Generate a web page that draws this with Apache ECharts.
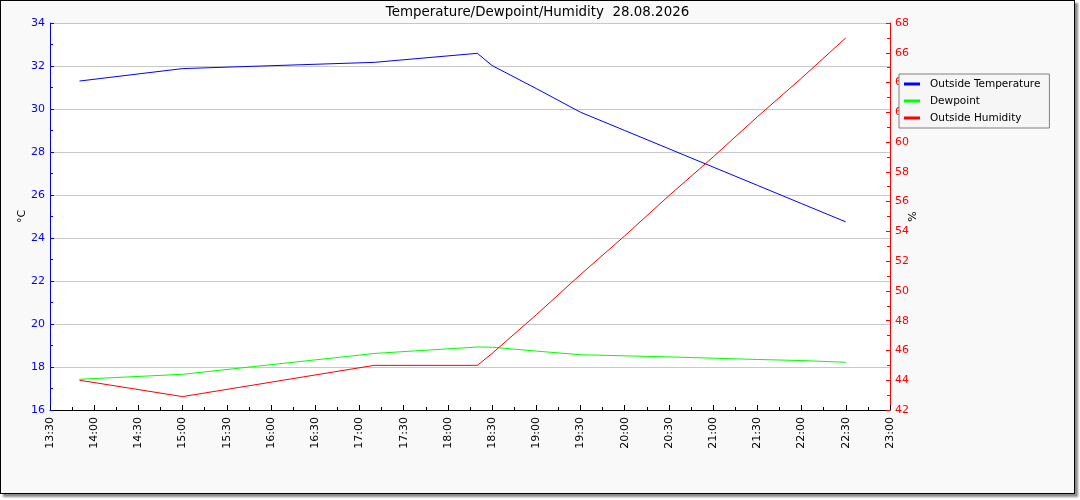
<!DOCTYPE html>
<html>
<head>
<meta charset="utf-8">
<script src="https://cdn.jsdelivr.net/npm/echarts@6/dist/echarts.min.js"></script>
<style>
  html, body { margin: 0; padding: 0; background: #ffffff; }
  #frame {
    position: absolute; left: 0; top: 0;
    width: 1073px; height: 492px;
    border: 1px solid #000;
    background: #f9f9f9;
    box-shadow: 3px 3px 2px #8a8a8a;
  }
  #chart { width: 1073px; height: 492px; }
</style>
</head>
<body>
<div id="frame"><div id="chart"></div></div>
<script>
// ---- data ----
var times = ['13:50','15:00','17:10','18:20','18:30','19:00','19:30','20:00','20:30','21:00','21:30','22:00','22:30'];
var outsideTemperature = [31.3, 31.88, 32.17, 32.59, 32.02, 30.95, 29.85, 29.0, 28.15, 27.3, 26.45, 25.6, 24.75];
var dewpoint = [17.43, 17.66, 18.63, 18.93, 18.92, 18.74, 18.57, 18.52, 18.47, 18.41, 18.35, 18.3, 18.22];
var outsideHumidity = [44.0, 42.9, 45.0, 45.0, 45.8, 48.4, 51.1, 53.7, 56.4, 59.0, 61.7, 64.3, 67.0];
var seriesNames = ['Outside Temperature', 'Dewpoint', 'Outside Humidity'];
var titleText = 'Temperature/Dewpoint/Humidity  28.08.2026';
var xStart = '13:30', xEnd = '23:00';

function toMin(t) { var p = t.split(':'); return (+p[0]) * 60 + (+p[1]); }
function fmt(m) { var h = Math.floor(m / 60), mm = m % 60; return h + ':' + (mm < 10 ? '0' : '') + mm; }
function pairs(vals) { return times.map(function (t, i) { return [toMin(t), vals[i]]; }); }

var FONT = 'DejaVu Sans';
var chart = echarts.init(document.getElementById('chart'), null, { renderer: 'canvas' });
chart.setOption({
  animation: false,
  backgroundColor: 'transparent',
  title: {
    text: titleText, left: 'center', top: 5, padding: 0,
    textStyle: { fontFamily: FONT, fontSize: 13.4, fontWeight: 'normal', color: '#000' }
  },
  grid: {
    left: 49, top: 22, width: 840, height: 387,
    show: true, backgroundColor: '#ffffff', borderWidth: 0
  },
  legend: {
    orient: 'vertical', left: 898, top: 73,
    backgroundColor: '#f6f6f6', borderColor: '#808080', borderWidth: 1,
    padding: [4, 9, 4, 5], itemGap: 5,
    itemWidth: 16, itemHeight: 3, icon: 'rect',
    textStyle: { fontFamily: FONT, fontSize: 10.5, lineHeight: 12, color: '#000', padding: [0, 0, 0, 5] },
    data: seriesNames
  },
  xAxis: {
    type: 'value', min: toMin(xStart), max: toMin(xEnd), interval: 30,
    axisLine: { show: true, onZero: false, lineStyle: { color: '#000', width: 1 } },
    axisTick: { show: true, inside: true, length: 5, lineStyle: { color: '#000' } },
    minorTick: { show: true, splitNumber: 2, length: 3, lineStyle: { color: '#000' } },
    splitLine: { show: false },
    axisLabel: {
      rotate: 90, margin: 7, color: '#000', fontFamily: FONT, fontSize: 11,
      formatter: function (v) { return fmt(v); }
    }
  },
  yAxis: [{
    type: 'value', position: 'left', min: 16, max: 34, interval: 2,
    name: '°C', nameLocation: 'middle', nameGap: 22, nameRotate: 90, nameMoveOverlap: false,
    nameTextStyle: { fontFamily: FONT, fontSize: 11, color: '#000' },
    axisLine: { show: true, lineStyle: { color: '#0000ff', width: 1 } },
    axisTick: { show: true, inside: true, length: 4, lineStyle: { color: '#0000ff' } },
    minorTick: { show: true, splitNumber: 2, length: 3, lineStyle: { color: '#0000ff' } },
    splitLine: { show: true, lineStyle: { color: '#c8c8c8', width: 1 } },
    axisLabel: { color: '#0000ff', fontFamily: FONT, fontSize: 11, margin: 5 }
  }, {
    type: 'value', position: 'right', min: 42, max: 68, interval: 2,
    name: '%', nameLocation: 'middle', nameGap: 18, nameRotate: 90, nameMoveOverlap: false,
    nameTextStyle: { fontFamily: FONT, fontSize: 11, color: '#000' },
    axisLine: { show: true, lineStyle: { color: '#ff0000', width: 1 } },
    axisTick: { show: true, inside: true, length: 4, lineStyle: { color: '#ff0000' } },
    minorTick: { show: true, splitNumber: 2, length: 3, lineStyle: { color: '#ff0000' } },
    splitLine: { show: false },
    axisLabel: { color: '#ff0000', fontFamily: FONT, fontSize: 11, margin: 5 }
  }],
  series: [{
    name: seriesNames[0], type: 'line', yAxisIndex: 0, data: pairs(outsideTemperature),
    showSymbol: false, symbol: 'none', lineStyle: { color: '#0000ff', width: 1 }, itemStyle: { color: '#0000ff' }
  }, {
    name: seriesNames[1], type: 'line', yAxisIndex: 0, data: pairs(dewpoint),
    showSymbol: false, symbol: 'none', lineStyle: { color: '#00ff00', width: 1 }, itemStyle: { color: '#00ff00' }
  }, {
    name: seriesNames[2], type: 'line', yAxisIndex: 1, data: pairs(outsideHumidity),
    showSymbol: false, symbol: 'none', lineStyle: { color: '#ff0000', width: 1 }, itemStyle: { color: '#ff0000' }
  }]
});
</script>
</body>
</html>
